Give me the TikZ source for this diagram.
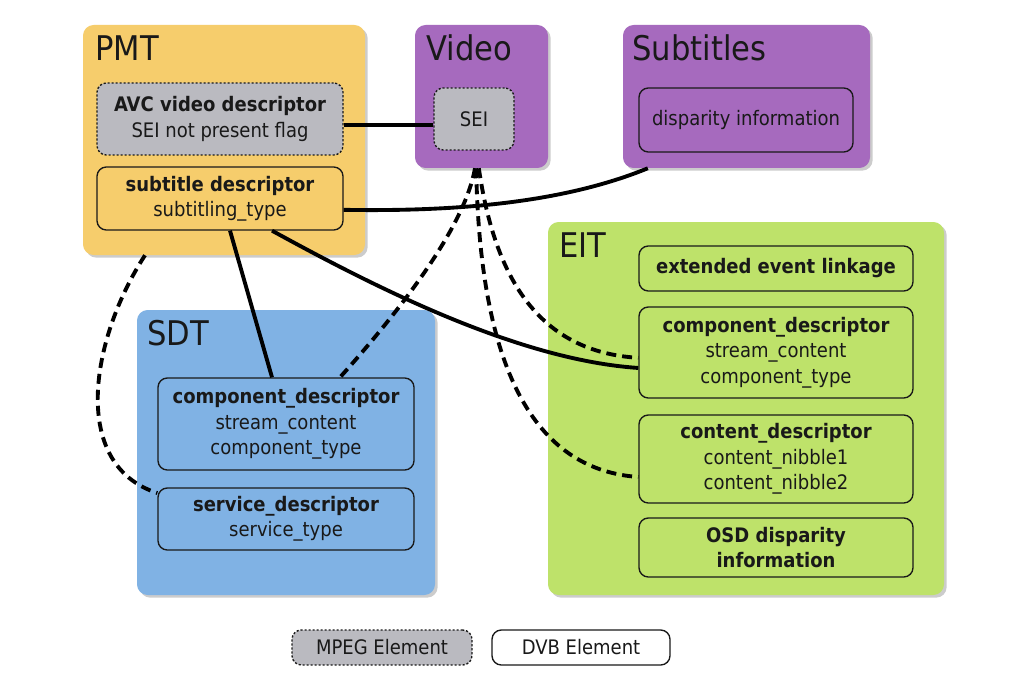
\documentclass[tikz,border=0pt]{standalone}
\usepackage{fontspec}
\setmainfont{DejaVu Sans}[FakeStretch=0.9]
\usetikzlibrary{shadows}
\definecolor{pmtc}{RGB}{246,205,108}
\definecolor{vidc}{RGB}{166,106,190}
\definecolor{sdtc}{RGB}{128,178,228}
\definecolor{eitc}{RGB}{190,226,106}
\definecolor{mpegc}{RGB}{186,186,192}
\definecolor{txt}{RGB}{25,25,25}
\tikzset{
  cont/.style={rounded corners=8pt, inner sep=0pt,
    drop shadow={shadow xshift=2pt, shadow yshift=-2pt, opacity=0.4}},
  inbox/.style={draw=txt, line width=1pt, rounded corners=7pt, inner sep=0pt,
    align=center, text=txt, font=\fontsize{15}{19}\selectfont},
  mpegbox/.style={inbox, fill=mpegc, dash pattern=on 1.6pt off 1.4pt},
  ttl/.style={anchor=base west, inner sep=0pt, text=txt, font=\fontsize{25.5}{30}\selectfont},
  conn/.style={line width=2.9pt, draw=black},
  dconn/.style={conn, dash pattern=on 7.5pt off 4.5pt}
}
\begin{document}
\begin{tikzpicture}[x=0.75pt,y=-0.75pt]
\useasboundingbox[fill=white] (0,0) rectangle (1024,688);
% containers
\node[cont, fill=pmtc, minimum width=211.5pt, minimum height=172.5pt] (pmt) at (224,140) {};
\node[cont, fill=vidc, minimum width=99.75pt, minimum height=107.25pt] (video) at (481.5,96.5) {};
\node[cont, fill=vidc, minimum width=185.25pt, minimum height=107.25pt] (subt) at (746.5,96.5) {};
\node[cont, fill=sdtc, minimum width=223.5pt, minimum height=213.75pt] (sdt) at (286,452.5) {};
\node[cont, fill=eitc, minimum width=297pt, minimum height=279.75pt] (eit) at (746,408.5) {};
% titles
\node[ttl] (pmtT) at (95,61) {PMT};
\node[ttl] (videoT) at (426,61) {Video};
\node[ttl] (subtT) at (632,61) {Subtitles};
\node[ttl] (sdtT) at (147,345) {SDT};
\node[ttl] (eitT) at (559,257) {EIT};
% inner boxes
\node[mpegbox, minimum width=184.5pt, minimum height=54pt] (avc) at (220,119)
  {\textbf{AVC video descriptor}\\SEI not present flag};
\node[inbox, minimum width=184.5pt, minimum height=47.25pt] (subdesc) at (220,198.5)
  {\textbf{subtitle descriptor}\\subtitling\_type};
\node[mpegbox, minimum width=60pt, minimum height=46.5pt] (sei) at (474,119) {SEI};
\node[inbox, minimum width=160.5pt, minimum height=48pt] (disp) at (746,120) {disparity information};
\node[inbox, minimum width=192pt, minimum height=69pt] (sdtcomp) at (286,424)
  {\textbf{component\_descriptor}\\stream\_content\\component\_type};
\node[inbox, minimum width=192pt, minimum height=46.5pt] (service) at (286,519)
  {\textbf{service\_descriptor}\\service\_type};
\node[inbox, minimum width=205.5pt, minimum height=33.75pt] (eel) at (776,268.5)
  {\textbf{extended event linkage}};
\node[inbox, minimum width=205.5pt, minimum height=68.25pt] (eitcomp) at (776,352.5)
  {\textbf{component\_descriptor}\\stream\_content\\component\_type};
\node[inbox, minimum width=205.5pt, minimum height=66pt] (content) at (776,459)
  {\textbf{content\_descriptor}\\content\_nibble1\\content\_nibble2};
\node[inbox, minimum width=205.5pt, minimum height=44.25pt] (osd) at (776,547.5)
  {\textbf{OSD disparity}\\\textbf{information}};
% legend
\node[mpegbox, minimum width=135pt, minimum height=26.25pt] (legm) at (382,647.5) {MPEG Element};
\node[inbox, fill=white, minimum width=133.5pt, minimum height=26.25pt] (legd) at (581,647.5) {DVB Element};
% connectors
\draw[conn] ([yshift=-4.5pt]avc.east) -- ([yshift=-4.5pt]sei.west);
\draw[conn] ([yshift=-8.5pt]subdesc.east) .. controls (470,212) and (570,200) .. ([xshift=-74pt]subt.south);
\draw[conn] ([xshift=7.5pt]subdesc.south) -- ([xshift=-10.5pt]sdtcomp.north);
\draw[conn] ([xshift=39pt]subdesc.south) .. controls (380,290) and (520,360) .. ([yshift=-11.6pt]eitcomp.west);
\draw[dconn] ([xshift=-4.9pt]video.south) .. controls (465,225) and (405,305) .. ([xshift=40.5pt]sdtcomp.north);
\draw[dconn] ([xshift=-4pt]video.south) .. controls (480,380) and (540,470) .. ([yshift=-13.5pt]content.west);
\draw[dconn] ([xshift=-2pt]video.south) .. controls (495,280) and (540,352) .. ([yshift=-4pt]eitcomp.west);
\draw[dconn] ([xshift=-59.25pt]pmt.south) .. controls (90,340) and (70,465) .. ([yshift=19.5pt]service.west);
\end{tikzpicture}
\end{document}
